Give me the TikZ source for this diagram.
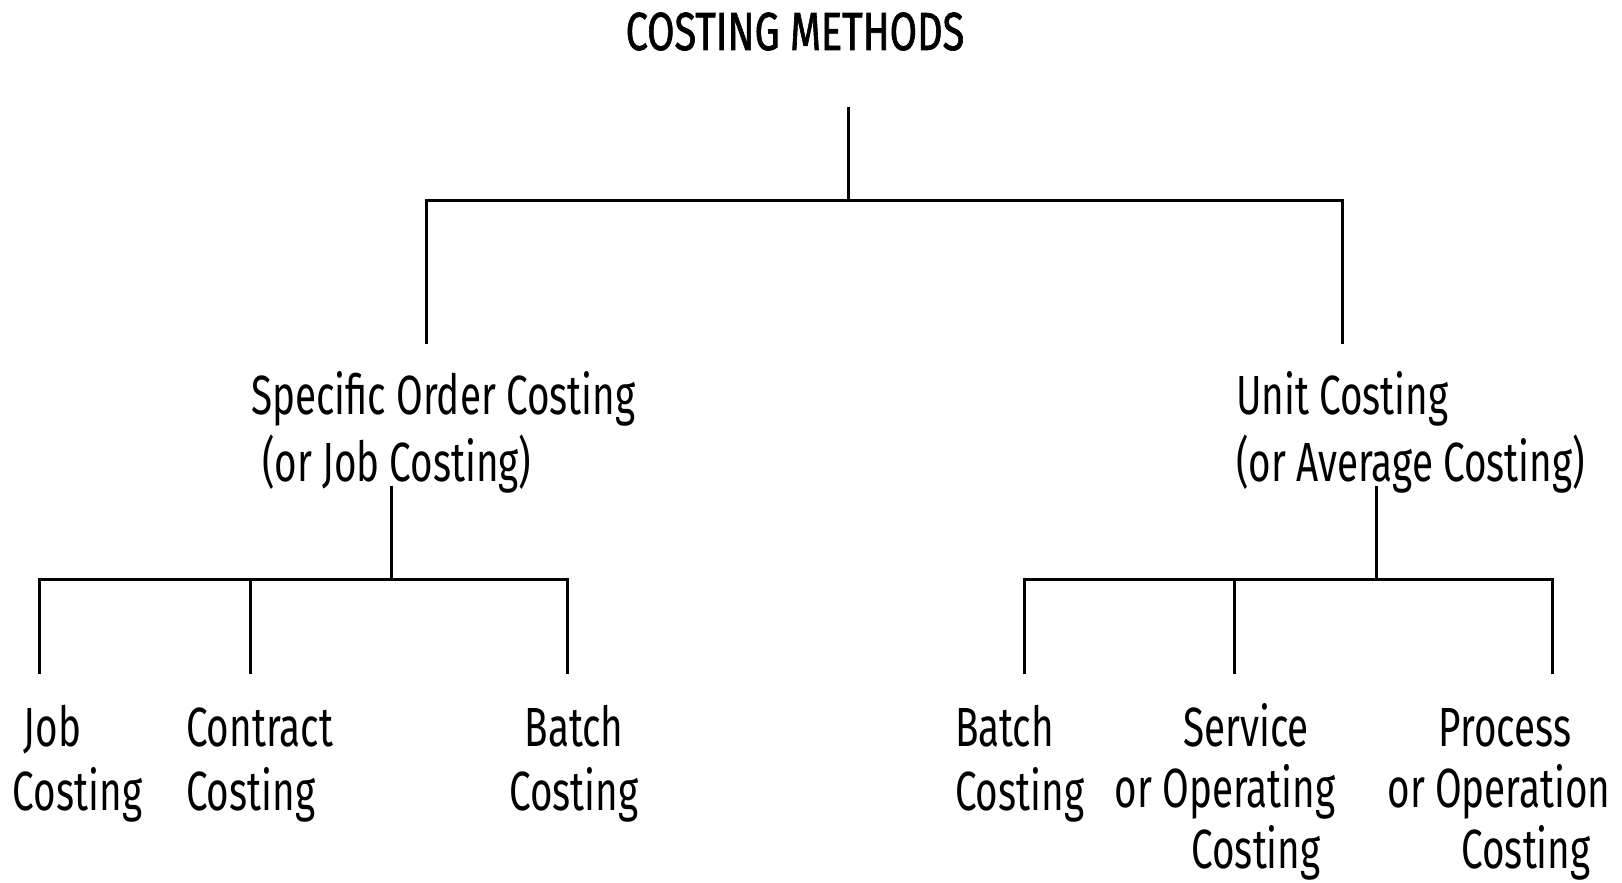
\documentclass[tikz,border=0pt]{standalone}
\usepackage{fontspec}
\setmainfont{Fira Sans}[FakeStretch=0.70]
\newfontfamily\titlefont{Fira Sans}[FakeStretch=0.74,FakeBold=1.2]
\begin{document}
\begin{tikzpicture}[x=0.5pt,y=-0.5pt,
  line/.style={draw=black,line width=1.5pt},
  lbl/.style={inner sep=0pt,outer sep=0pt,font=\fontsize{27.6}{32}\selectfont},
  lbltight/.style={inner sep=0pt,outer sep=0pt,font=\fontsize{27.6}{30.5}\selectfont},
  mid/.style={inner sep=0pt,outer sep=0pt,font=\fontsize{27.6}{33.5}\selectfont},
  ttl/.style={inner sep=0pt,outer sep=0pt,font=\titlefont\fontsize{26.8}{30}\selectfont}]
\useasboundingbox (0,0) rectangle (1622,883);
% title
\node[ttl,anchor=base] (title) at (795,50) {COSTING METHODS};
% level 2 (anchor = baseline of last line)
\node[mid,anchor=base west,align=left] (soc) at (251,481)
  {Specific Order Costing\\\hspace*{5.5pt}(or Job Costing)};
\node[mid,anchor=base west,align=left] (uc) at (1236,481)
  {Unit Costing\\(or Average Costing)};
% level 3
\node[lbl,anchor=base west,align=left] (job) at (13,810)
  {\hspace*{5.5pt}Job\\Costing};
\node[lbl,anchor=base west,align=left] (con) at (186,810)
  {Contract\\Costing};
\node[lbl,anchor=base,align=center] (bat1) at (574,810)
  {Batch\\Costing};
\node[lbl,anchor=base west,align=left] (bat2) at (955,810)
  {Batch\\Costing};
\node[lbltight,anchor=base,align=center] (ser) at (1225,868)
  {\hspace*{21pt}Service\\or Operating\\\hspace*{31pt}Costing};
\node[lbltight,anchor=base,align=center] (pro) at (1499,868)
  {\hspace*{6pt}Process\\or Operation\\\hspace*{27pt}Costing};
% junction coordinates
\coordinate (t0) at (848,107);
\coordinate (t1) at (848,200);
\coordinate (a1) at (426,344);
\coordinate (a2) at (1342,344);
\coordinate (l0) at (391,486);
\coordinate (l1) at (391,579);
\coordinate (r0) at (1376,486);
\coordinate (r1) at (1376,579);
\coordinate (c1) at (39,674);
\coordinate (c2) at (250,674);
\coordinate (c3) at (567,674);
\coordinate (c4) at (1024,674);
\coordinate (c5) at (1234,674);
\coordinate (c6) at (1552,674);
% connectors
\draw[line] (t0) -- (t1);
\draw[line] (a1) |- (t1) -| (a2);
\draw[line] (l0) -- (l1);
\draw[line] (c1) |- (l1) -| (c3);
\draw[line] (c2) -- (c2 |- l1);
\draw[line] (r0) -- (r1);
\draw[line] (c4) |- (r1) -| (c6);
\draw[line] (c5) -- (c5 |- r1);
\end{tikzpicture}
\end{document}
